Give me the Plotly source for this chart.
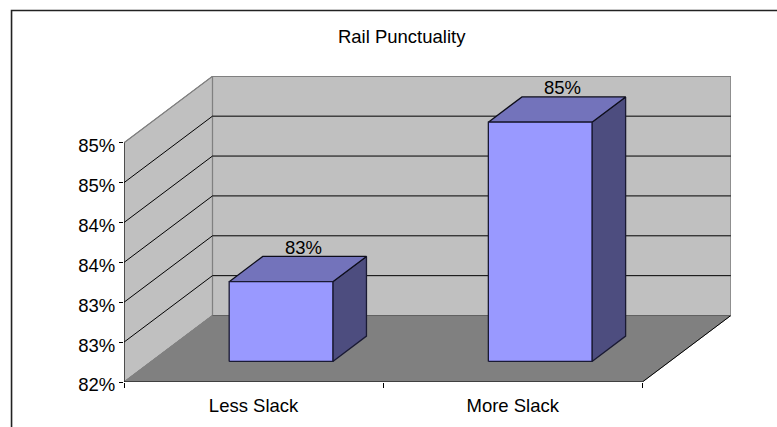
import plotly.graph_objects as go

categories = ["Less Slack", "More Slack"]
values = [0.83, 0.85]
y_ticks = [0.82, 0.825, 0.83, 0.835, 0.84, 0.845, 0.85]
y_labels = ["82%", "83%", "83%", "84%", "84%", "85%", "85%"]
title_text = "Rail Punctuality"

W, H = 777, 427
FS = 18.5
# plot box in pixels
L, R, T, B = 123.5, 730.7, 75.5, 381.7
PX_PER_CAT = 259.25
PX_PER_VAL = 39.9 / 0.005
Y0 = 0.82
YTOP = 0.85
DX = 88.5 / PX_PER_CAT      # depth shift in category units
DY = 66.5 / PX_PER_VAL      # depth shift in value units
xmax = (R - L) / PX_PER_CAT
ymax = Y0 + (B - T) / PX_PER_VAL
BAR_W = 0.4
BAR_D0 = 0.31
BAR_D1 = 0.69


def proj(x, v, d):
    return x + DX * d, v + DY * d


def poly(pts, fill, line=None, width=1):
    xs, ys = zip(*(proj(*p) for p in pts + [pts[0]]))
    return go.Scatter(x=xs, y=ys, mode="lines", fill="toself", fillcolor=fill,
                      line=dict(color=line or fill, width=width),
                      hoverinfo="skip", showlegend=False)


def seg(p, q, color, width=1):
    a, b = proj(*p), proj(*q)
    return go.Scatter(x=[a[0], b[0]], y=[a[1], b[1]], mode="lines",
                      line=dict(color=color, width=width),
                      hoverinfo="skip", showlegend=False)


fig = go.Figure()
n = len(categories)
# walls and floor
fig.add_trace(poly([(0, Y0, 1), (n, Y0, 1), (n, YTOP, 1), (0, YTOP, 1)], "#c0c0c0", "#808080", 1.2))
fig.add_trace(poly([(0, Y0, 0), (0, Y0, 1), (0, YTOP, 1), (0, YTOP, 0)], "#c0c0c0", "#808080", 1.2))
fig.add_trace(poly([(0, Y0, 0), (n, Y0, 0), (n, Y0, 1), (0, Y0, 1)], "#808080"))
# gridlines
for t in y_ticks[1:-1]:
    fig.add_trace(seg((0, t, 0), (0, t, 1), "#000000"))
    fig.add_trace(seg((0, t, 1), (n, t, 1), "#000000"))
# floor edges and axes
fig.add_trace(seg((0, Y0, 0), (0, Y0, 1), "#808080"))
fig.add_trace(seg((n, Y0, 0), (n, Y0, 1), "#000000"))
fig.add_trace(seg((0, Y0, 1), (n, Y0, 1), "#606060"))
fig.add_trace(seg((0, YTOP, 0), (0, YTOP, 1), "#808080"))
fig.add_trace(seg((0, Y0, 0), (n, Y0, 0), "#000000"))
fig.add_trace(seg((0, Y0, 0), (0, YTOP, 0), "#000000"))
# bars
for i, v in enumerate(values):
    c = i + 0.5
    x0, x1 = c - BAR_W / 2, c + BAR_W / 2
    fig.add_trace(poly([(x1, Y0, BAR_D0), (x1, Y0, BAR_D1), (x1, v, BAR_D1), (x1, v, BAR_D0)],
                       "#4d4d7f", "#1a1a33", 1.3))
    fig.add_trace(poly([(x0, v, BAR_D0), (x1, v, BAR_D0), (x1, v, BAR_D1), (x0, v, BAR_D1)],
                       "#7373bb", "#0d0d1a", 1.3))
    fig.add_trace(poly([(x0, Y0, BAR_D0), (x1, Y0, BAR_D0), (x1, v, BAR_D0), (x0, v, BAR_D0)],
                       "#9999ff", "#1a1a33", 1.3))
    lx, ly = proj(c, v, 0.5)
    fig.add_annotation(x=lx, y=ly, text=f"{v:.0%}", showarrow=False, xshift=6, yshift=22,
                       font=dict(family="Liberation Sans", size=FS, color="#000000"))

fig.update_layout(
    width=W, height=H, autosize=False,
    paper_bgcolor="#ffffff", plot_bgcolor="#ffffff",
    margin=dict(l=L, r=W - R, t=T, b=H - B, pad=0),
    showlegend=False,
    font=dict(family="Liberation Sans", size=FS, color="#000000"),
    title=dict(text=title_text, x=401.7 / W, xanchor="center", y=1 - 37 / H, yanchor="middle",
               font=dict(family="Liberation Sans", size=FS, color="#000000")),
    xaxis=dict(range=[0, xmax], showgrid=False, zeroline=False, showline=False,
               tickvals=[i + 0.5 for i in range(n)], ticktext=categories,
               ticks="", ticklabelstandoff=10,
               minor=dict(tickvals=list(range(n + 1)), ticks="outside", ticklen=5, tickcolor="#000000", tickwidth=1)),
    yaxis=dict(range=[Y0, ymax], showgrid=False, zeroline=False, showline=False,
               tickvals=y_ticks, ticktext=y_labels, ticks="outside", ticklen=4,
               ticklabelshift=3,
               tickcolor="#000000", tickwidth=1),
    shapes=[dict(type="path", xref="paper", yref="paper", layer="above",
                 path=f"M {(11 - L) / (R - L)} {(B - 427) / (B - T)} L {(11 - L) / (R - L)} {(B - 10) / (B - T)} L {(777 - L) / (R - L)} {(B - 10) / (B - T)}",
                 line=dict(color="#222222", width=1.6))],
)
fig.write_html("out.html", config=dict(displayModeBar=False),
               post_script="document.body.style.margin='0';document.body.style.overflow='hidden';")
